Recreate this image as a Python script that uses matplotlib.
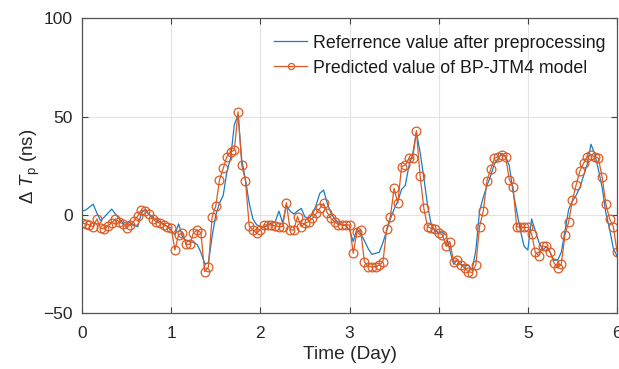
import numpy as np
import matplotlib
matplotlib.use("Agg")
import matplotlib.pyplot as plt

plt.rcParams['font.family'] = ['Liberation Sans', 'DejaVu Sans']
plt.rcParams['mathtext.fontset'] = 'custom'
plt.rcParams['mathtext.rm'] = 'Liberation Sans'
plt.rcParams['mathtext.it'] = 'Liberation Sans:italic'

# Reference value after preprocessing (hourly, day 0..6)
reference = [
    2, 2.5, 4, 5.5, 1, -3, -1, 1, 3, 0.5, -2, -4, -4, -4, -5, -6, 1, 3, 0.5, -1, -2.5, -3.5, -4.5, -6,
    -8, -10, -4.5, -11, -13, -13.5, -14, -15, -19, -24.6, -24.6, -11, 0, 6, 10, 22, 29, 46, 51, 28, 18, 6, -2, -5,
    -6, -6.5, -5, -4, -3.5, 2, -4, 5, 2, 0.5, 2, 3.4, -1, -1.5, 0, 5, 11, 12.7, 6, 1, -2, -4.2, -4.8, -5.5,
    -7.6, -13.5, -7, -9.5, -13, -17, -20, -19.5, -19, -14, -8, -2, 3, 7, 13, 15, 25, 31, 42, 32, 19, 5, -5, -8,
    -9, -9, -10, -18, -25, -23, -25, -26, -25.5, -28, -18, 2, 9, 15, 20, 26, 28.8, 31.4, 30, 25, 12, 2, -8, -16,
    -17.8, -2, -8, -14, -17.8, -16, -19, -23, -23, -19, -8, 3, 7, 10, 14, 20, 26, 36, 31, 23, 14, 1, -7, -17, -21,
]

# Predicted value of BP-JTM4 model (hourly, day 0..6)
predicted = [
    -4, -4.5, -5, -6, -2, -6.8, -7, -5.5, -4, -2, -3.5, -4.5, -6.5, -5, -3, -0.5, 2.5, 2, 0.5, -2, -3.5, -4.2, -5, -6,
    -6.5, -17.8, -10, -9.3, -15, -15, -9, -7.6, -9, -28.8, -26.6, -1.2, 4.6, 17.8, 23.7, 29.7, 32, 33, 52.5, 25.4, 17.3, -5.6, -7.6, -9.3,
    -7.6, -5, -5, -5, -5.6, -5.9, -5.9, 6.3, -7.6, -7.6, -0.8, -6, -4.2, -3.4, -1.7, 0.8, 3.4, 5.9, 1.2, -1.7, -3.4, -5, -5, -5,
    -5, -19.5, -8.5, -7.6, -23.7, -26.3, -26.3, -26.3, -25.4, -23.7, -7.3, -0.8, 13.6, 5.9, 24.6, 25.4, 28.8, 28.8, 42.9, 19.8, 3.4, -5.9, -6.8, -7.3,
    -9.3, -10, -16, -13.5, -23.7, -22.9, -25.4, -27, -28.8, -29.3, -25.4, -5.9, 2, 17.5, 23.2, 28.8, 29.7, 30.5, 29.7, 18, 14.4, -5.9, -6.3, -6.3,
    -6.3, -9.5, -19, -20.8, -15.8, -16, -19, -24.2, -27, -25, -10, -3.4, 7.6, 15.3, 22.4, 26.3, 29.7, 30.5, 29.7, 28.8, 19.2, 5.6, -2, -5.9, -18.6,
]

hours = np.arange(len(reference))
days = hours / 24.0

xticks = [0, 1, 2, 3, 4, 5, 6]
yticks = [-50, 0, 50, 100]
ytick_labels = ['\u221250', '0', '50', '100']

fig = plt.figure(figsize=(6.19, 3.69), dpi=100)
ax = fig.add_axes([0.1325, 0.151, 0.8643, 0.799])

ax.plot(days, reference, color='#1a7cc8', lw=0.9,
        label='Referrence value after preprocessing')
ax.plot(days, predicted, color='#dd5a22', lw=0.9, marker='o', ms=6.3,
        mfc='none', mec='#dd5a22', mew=0.9,
        label='Predicted value of BP-JTM4 model')

ax.set_xlim(0, 6)
ax.set_ylim(-50, 100)
ax.set_xticks(xticks)
ax.set_yticks(yticks)
ax.set_yticklabels(ytick_labels)
ax.grid(True, color='#e3e3e3', lw=0.8)
ax.set_axisbelow(True)
ax.tick_params(direction='in', top=True, right=True, labelsize=12.5,
               color='#404040', length=4, width=0.8, labelcolor='#262626')
ax.tick_params(axis='y', pad=6.5)
ax.tick_params(axis='x', pad=9.5)
for s in ax.spines.values():
    s.set_color('#555555')
    s.set_linewidth(0.9)

ax.set_xlabel('Time (Day)', fontsize=13.8, color='#262626', labelpad=3.5)
ax.set_ylabel(r'$\Delta\ T_{\mathrm{p}}$ (ns)', fontsize=13.5, color='#262626', labelpad=1)

leg = ax.legend(loc='upper left', bbox_to_anchor=(0.359, 0.945), frameon=False,
                fontsize=12.8, handlelength=1.86, handletextpad=0.34,
                borderpad=0.0, borderaxespad=0.0, labelspacing=0.45,
                markerscale=0.7)
for t in leg.get_texts():
    t.set_color('#1a1a1a')

fig.savefig('out.png', dpi=100)
